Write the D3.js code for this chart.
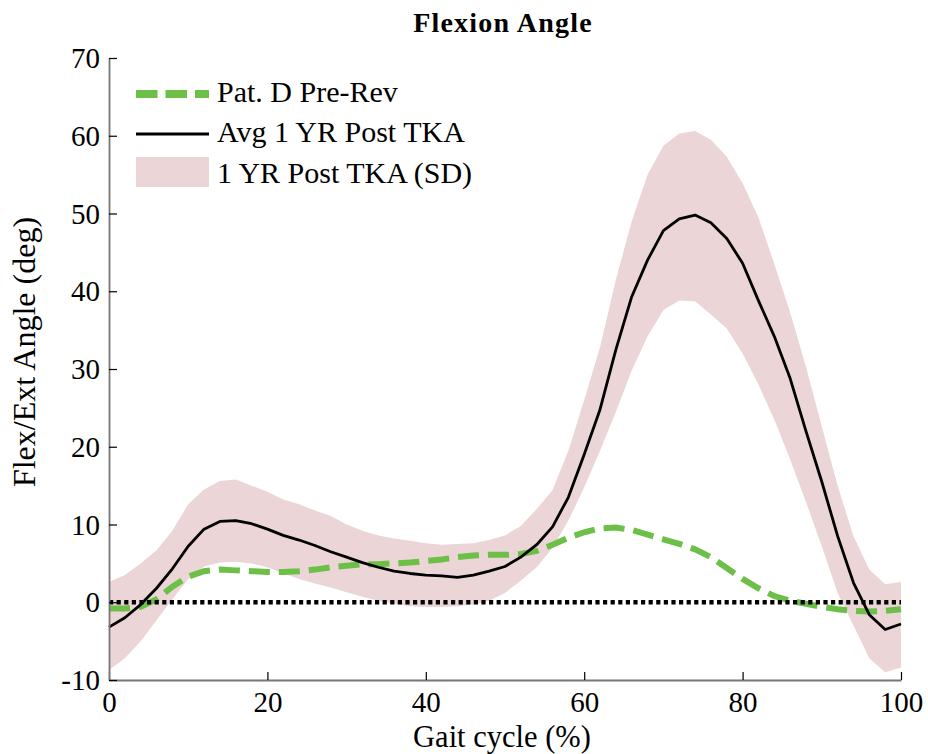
<!DOCTYPE html>
<html>
<head>
<meta charset="utf-8">
<script src="https://cdn.jsdelivr.net/npm/d3@7"></script>
</head>
<body style="margin:0; background:#fff">
<svg id="chart"></svg>
<script>
// gait cycle (%) sampled every 2 %
const gait = [0,2,4,6,8,10,12,14,16,18,20,22,24,26,28,30,32,34,36,38,40,42,44,46,48,50,
              52,54,56,58,60,62,64,66,68,70,72,74,76,78,80,82,84,86,88,90,92,94,96,98,100]

const avgPost = [-3.2,-2.0,-0.3,1.8,4.3,7.2,9.4,10.4,10.5,10.1,9.4,8.6,8.0,7.3,6.5,5.8,5.1,4.5,4.0,3.7,3.5,3.4,3.2,3.5,4.0,4.6,
                 5.8,7.4,9.7,13.5,19.0,24.8,32.5,39.3,44.0,47.8,49.3,49.8,48.8,46.8,43.6,38.8,34.2,28.8,22.0,15.5,8.5,2.5,-1.6,-3.5,-2.8]

const sdUpper = [2.6,3.5,5.0,6.7,9.2,12.6,14.5,15.6,15.8,15.0,14.2,13.2,12.6,11.8,11.1,10.0,9.2,8.6,8.2,7.9,7.6,7.4,7.5,7.6,8.0,8.6,
                 9.8,12.0,14.4,19.5,26.0,32.8,41.5,49.0,55.0,58.7,60.3,60.6,59.5,57.3,53.9,49.5,43.5,37.3,30.3,22.6,15.0,8.5,4.2,2.3,2.6]

const sdLower = [-8.7,-7.2,-5.0,-2.3,0.4,3.0,4.6,5.1,5.2,5.0,4.5,3.7,3.0,2.4,1.9,1.3,0.7,0.2,-0.2,-0.5,-0.6,-0.6,-0.5,-0.3,0.2,1.2,
                 2.8,4.5,7.0,10.5,14.8,19.5,24.5,29.8,34.2,37.6,38.8,38.7,37.0,35.2,32.0,28.0,23.5,18.4,12.9,7.2,1.2,-3.0,-7.2,-9.0,-8.4]

const patD = [-0.8,-0.8,-0.6,0.4,2.0,3.3,4.0,4.2,4.1,4.0,3.9,3.9,4.0,4.2,4.5,4.7,4.9,4.9,5.0,5.1,5.3,5.5,5.8,6.0,6.1,6.1,
              6.2,6.6,7.4,8.3,9.0,9.5,9.6,9.3,8.7,8.1,7.5,6.8,5.8,4.4,3.0,1.8,0.8,0.2,-0.2,-0.6,-0.9,-1.1,-1.2,-1.1,-0.9]

const xTicks = [0,20,40,60,80,100]
const yTicks = [-10,0,10,20,30,40,50,60,70]
const legendLabels = ["Pat. D Pre-Rev", "Avg 1 YR Post TKA", "1 YR Post TKA (SD)"]

const width = 928
const height = 754
const green = "#6cbf47"
const bandColor = "#ebd5d6"

const svg = d3.select("#chart")
              .attr("width", width)
              .attr("height", height)

const x = d3.scaleLinear().domain([0, 100]).range([109, 901])
const y = d3.scaleLinear().domain([-10, 70]).range([680, 58])

const rows = gait.map((g, i) => ({ g: g, avg: avgPost[i], hi: sdUpper[i], lo: sdLower[i], pat: patD[i] }))

// SD band
svg.append("path")
   .datum(rows)
   .attr("fill", bandColor)
   .attr("d", d3.area().x(d => x(d.g)).y0(d => y(d.lo)).y1(d => y(d.hi)))

// patient pre-revision
svg.append("path")
   .datum(rows)
   .attr("fill", "none")
   .attr("stroke", green)
   .attr("stroke-width", 6)
   .attr("stroke-dasharray", "21,9")
   .attr("d", d3.line().x(d => x(d.g)).y(d => y(d.pat)))

// average post TKA
svg.append("path")
   .datum(rows)
   .attr("fill", "none")
   .attr("stroke", "#000")
   .attr("stroke-width", 2.8)
   .attr("stroke-linejoin", "round")
   .attr("d", d3.line().x(d => x(d.g)).y(d => y(d.avg)))

// zero reference (dotted)
svg.append("line")
   .attr("x1", x(0)).attr("x2", x(100))
   .attr("y1", y(0)).attr("y2", y(0))
   .attr("stroke", "#000")
   .attr("stroke-width", 4.5)
   .attr("stroke-dasharray", "4.2,3.4")

// axes
const fmt = d => String(d)
const xAxis = svg.append("g")
                 .attr("transform", "translate(0," + y(-10) + ")")
                 .call(d3.axisBottom(x).tickValues(xTicks).tickFormat(fmt).tickSizeInner(-8).tickSizeOuter(0).tickPadding(11))
const yAxis = svg.append("g")
                 .attr("transform", "translate(" + x(0) + ",0)")
                 .call(d3.axisLeft(y).tickValues(yTicks).tickFormat(fmt).tickSizeInner(-8).tickSizeOuter(0).tickPadding(9))

svg.selectAll(".domain").attr("stroke", "#777").attr("stroke-width", 1.8)
svg.selectAll(".tick line").attr("stroke", "#000").attr("stroke-width", 1.2)
svg.selectAll(".tick text").style("font-size", "29px").attr("fill", "#000")
yAxis.selectAll(".tick text").attr("dy", "0.33em")
xAxis.attr("font-family", null).attr("font-size", null)
yAxis.attr("font-family", null).attr("font-size", null)

// labels
svg.append("text")
   .attr("x", 503).attr("y", 32)
   .attr("text-anchor", "middle")
   .style("font-size", "28px")
   .style("font-weight", "bold")
   .style("letter-spacing", "1.2px")
   .text("Flexion Angle")

svg.append("text")
   .attr("x", 502).attr("y", 747)
   .attr("text-anchor", "middle")
   .style("font-size", "30.5px")
   .text("Gait cycle (%)")

svg.append("text")
   .attr("transform", "translate(35,352) rotate(-90)")
   .attr("text-anchor", "middle")
   .style("font-size", "32px")
   .text("Flex/Ext Angle (deg)")

// legend
const legend = svg.append("g")

legend.append("line")
      .attr("x1", 136).attr("x2", 209).attr("y1", 94).attr("y2", 94)
      .attr("stroke", green).attr("stroke-width", 8)
      .attr("stroke-dasharray", "21.5,8")

legend.append("line")
      .attr("x1", 136).attr("x2", 209).attr("y1", 134).attr("y2", 134)
      .attr("stroke", "#000").attr("stroke-width", 3)

legend.append("rect")
      .attr("x", 136).attr("y", 157).attr("width", 73).attr("height", 30)
      .attr("fill", bandColor)

legend.selectAll(".legText")
      .data(legendLabels)
      .enter()
      .append("text")
      .attr("class", "legText")
      .attr("x", 217)
      .attr("y", (d, i) => [102, 142, 183][i])
      .style("font-size", "30px")
      .text(d => d)

// Times-like serif on every label
svg.selectAll("text").style("font-family", '"Liberation Serif"').attr("fill", "#000")
</script>
</body>
</html>
